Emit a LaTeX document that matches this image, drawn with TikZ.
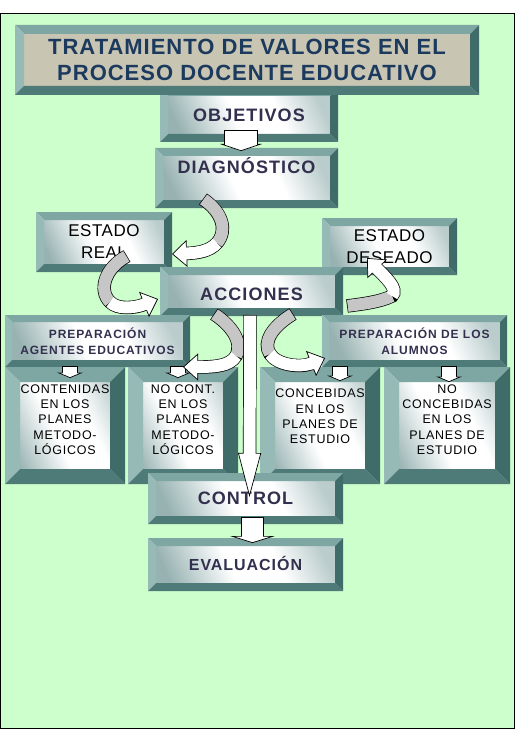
\documentclass[tikz,border=0pt]{standalone}
\usepackage{fontspec}
\setmainfont{Liberation Sans}
\newfontfamily\titlefont[LetterSpace=4.5]{Liberation Sans}
\newfontfamily\lblfont[LetterSpace=6]{Liberation Sans}
\newfontfamily\estfont[LetterSpace=3]{Liberation Sans}
\newfontfamily\prepfont[LetterSpace=8]{Liberation Sans}
\newfontfamily\smallfont[LetterSpace=6]{Liberation Sans}
\usetikzlibrary{arrows.meta}
\definecolor{bg}{HTML}{CCFFCC}
\definecolor{bevT}{HTML}{7EA6A2}
\definecolor{bevL}{HTML}{96BAB6}
\definecolor{bevB}{HTML}{4E7B78}
\definecolor{bevR}{HTML}{3F6B69}
\definecolor{fdark}{HTML}{98B2B2}
\definecolor{flight}{HTML}{BACCCC}
\definecolor{titleface}{HTML}{C8C5B3}
\definecolor{titletext}{HTML}{1C3A5E}
\definecolor{lbl}{HTML}{33304E}
\definecolor{arrgray}{HTML}{C6C6C6}
\pgfdeclarehorizontalshading{bevshade}{100bp}{color(0bp)=(fdark); color(25bp)=(fdark); color(45bp)=(white); color(60bp)=(white); color(75bp)=(flight); color(100bp)=(flight)}
\newlength\bw
\def\bevface{\shade[shading=bevshade,shading angle=25]}
\tikzset{
  bev/.code={\setlength\bw{#1}},
  plainface/.code={\def\bevface{\fill[titleface]}},
  bevbox/.style={inner sep=0pt, outer sep=0pt, align=center, fill=white, path picture={%
    \bevface ([xshift=\bw,yshift=-\bw]path picture bounding box.north west) rectangle ([xshift=-\bw,yshift=\bw]path picture bounding box.south east);
    \fill[bevT] (path picture bounding box.north west) -- (path picture bounding box.north east) -- ([xshift=-\bw,yshift=-\bw]path picture bounding box.north east) -- ([xshift=\bw,yshift=-\bw]path picture bounding box.north west) -- cycle;
    \fill[bevL] (path picture bounding box.north west) -- ([xshift=\bw,yshift=-\bw]path picture bounding box.north west) -- ([xshift=\bw,yshift=\bw]path picture bounding box.south west) -- (path picture bounding box.south west) -- cycle;
    \fill[bevB] (path picture bounding box.south west) -- ([xshift=\bw,yshift=\bw]path picture bounding box.south west) -- ([xshift=-\bw,yshift=\bw]path picture bounding box.south east) -- (path picture bounding box.south east) -- cycle;
    \fill[bevR] (path picture bounding box.north east) -- (path picture bounding box.south east) -- ([xshift=-\bw,yshift=\bw]path picture bounding box.south east) -- ([xshift=-\bw,yshift=-\bw]path picture bounding box.north east) -- cycle;
  }},
  titletxt/.style={font=\titlefont\bfseries\fontsize{22}{26}\selectfont, text=titletext},
  lbltxt/.style={font=\lblfont\bfseries\fontsize{18}{21}\selectfont, text=lbl},
  evaltxt/.style={font=\lblfont\bfseries\fontsize{16}{19}\selectfont, text=lbl},
  esttxt/.style={font=\estfont\fontsize{17}{22}\selectfont, text=black},
  preptxt/.style={font=\prepfont\bfseries\fontsize{12}{16}\selectfont, text=lbl},
  smalltxt/.style={font=\smallfont\fontsize{12.5}{15.4}\selectfont, text=black, align=center, inner sep=0pt},
  boutline/.style n args={3}{line width=#1, draw=black, -{Triangle[length=#2,width=#3,line width=0.7pt,fill=white]}},
  bfill/.style n args={2}{line width=#1, draw=white, shorten >=#2, shorten <=0.7pt},
  coutline/.style={line width=13.4pt, draw=black, -{Triangle[length=15pt,width=27pt,line width=0.7pt,fill=white]}},
  cgray/.style={line width=12pt, draw=arrgray, shorten <=0.7pt},
  cwhite/.style={line width=12pt, draw=white, shorten >=13.5pt},
}
\begin{document}
\begin{tikzpicture}[x=1pt,y=-1pt]
\useasboundingbox (0,0) rectangle (515,730);
\fill[white] (0,0) rectangle (515,730);
\draw[fill=bg, line width=0.9pt] (0.5,13.5) rectangle (514.5,728.5);

% boxes
\node[bevbox, bev=8pt, minimum width=178pt, minimum height=54pt, lbltxt] (obj) at (249,115) {OBJETIVOS};
\node[bevbox, bev=9pt, plainface, minimum width=464pt, minimum height=70pt, titletxt] (title) at (247,60) {TRATAMIENTO DE VALORES EN EL\\PROCESO DOCENTE EDUCATIVO};
\node[bevbox, bev=8pt, minimum width=183pt, minimum height=60pt, lbltxt] (diag) at (246.5,178) {\raisebox{12pt}[\height][\depth]{DIAGNÓSTICO}};
\node[bevbox, bev=8pt, minimum width=136pt, minimum height=60pt, esttxt] (er) at (104,242) {ESTADO\\REAL};
\node[bevbox, bev=8pt, minimum width=135pt, minimum height=57pt, esttxt] (ed) at (389.5,246.5) {ESTADO\\DESEADO};
\node[bevbox, bev=8pt, minimum width=183pt, minimum height=49pt, lbltxt] (acc) at (251.5,291.5) {\raisebox{-3pt}[\height][\depth]{ACCIONES}};
\node[bevbox, bev=7pt, minimum width=185pt, minimum height=52pt, preptxt] (pa) at (97.5,341) {PREPARACIÓN\\AGENTES EDUCATIVOS};
\node[bevbox, bev=7pt, minimum width=185pt, minimum height=52pt, preptxt] (pal) at (414.5,341) {PREPARACIÓN DE LOS\\ALUMNOS};
\node[bevbox, bev=15pt, minimum width=120pt, minimum height=117pt] (b1) at (65,425.5) {};
\node[smalltxt] (b1t) at ([yshift=6pt]b1.center) {CONTENIDAS\\EN LOS\\PLANES\\METODO-\\LÓGICOS};
\node[bevbox, bev=15pt, minimum width=110pt, minimum height=117pt] (b2) at (183,425.5) {};
\node[smalltxt] (b2t) at ([yshift=6pt]b2.center) {NO CONT.\\EN LOS\\PLANES\\METODO-\\LÓGICOS};
\node[bevbox, bev=15pt, minimum width=120pt, minimum height=117pt] (b3) at (320,425.5) {};
\node[smalltxt] (b3t) at ([yshift=9pt]b3.center) {CONCEBIDAS\\EN LOS\\PLANES DE\\ESTUDIO};
\node[bevbox, bev=15pt, minimum width=126pt, minimum height=117pt] (b4) at (447,425.5) {};
\node[smalltxt] (b4t) at ([yshift=6pt]b4.center) {NO\\CONCEBIDAS\\EN LOS\\PLANES DE\\ESTUDIO};
\node[bevbox, bev=8pt, minimum width=195pt, minimum height=51pt, lbltxt] (ctrl) at (245.5,498.5) {CONTROL};
\node[bevbox, bev=8pt, minimum width=195pt, minimum height=53pt, evaltxt] (eval) at (245.5,564.5) {\raisebox{1.2pt}[\height][\depth]{EVALUACIÓN}};

% connector end points
\coordinate (od1) at (241,130);   \coordinate (od2) at (241,151);
\coordinate (ce1) at (252.5,517); \coordinate (ce2) at (252.5,543);
\coordinate (la1) at (250,315);   \coordinate (la2) at (249.5,497);
\coordinate (s1a) at (70,366);    \coordinate (s1b) at (70,378);
\coordinate (s2a) at (178,366);   \coordinate (s2b) at (178,378);
\coordinate (s3a) at (340,366);   \coordinate (s3b) at (340,381);
\coordinate (s4a) at (449,366);   \coordinate (s4b) at (449,382);
\coordinate (c1s) at (203,199); \coordinate (c1m) at (217,243); \coordinate (c1e) at (172,254);
\coordinate (c2s) at (127,256); \coordinate (c2m) at (110,302); \coordinate (c2e) at (158,299);
\coordinate (c3s) at (347,306); \coordinate (c3m) at (392,296); \coordinate (c3e) at (367,258);
\coordinate (c4s) at (214,314); \coordinate (c4m) at (236,356); \coordinate (c4e) at (183,367);
\coordinate (c5s) at (293,314); \coordinate (c5m) at (270,354); \coordinate (c5e) at (325,358);

% small down arrows
\foreach \a/\b in {s1a/s1b, s2a/s2b, s3a/s3b, s4a/s4b}{
  \draw[boutline={15.4pt}{5.5pt}{26pt}] (\a) -- (\b);
  \draw[bfill={14pt}{4.5pt}] (\a) -- (\b);
}

% curved arrows
\draw[coutline] (c1s) .. controls (222,212) and (228,230) .. (c1m) .. controls (210,251) and (198,253) .. (c1e);
\draw[cgray] (c1s) .. controls (222,212) and (228,230) .. (c1m);
\draw[cwhite] (c1m) .. controls (210,251) and (198,253) .. (c1e);

\draw[coutline] (c2s) .. controls (105,268) and (98,290) .. (c2m) .. controls (118,310) and (135,308) .. (c2e);
\draw[cgray] (c2s) .. controls (105,268) and (98,290) .. (c2m);
\draw[cwhite] (c2m) .. controls (118,310) and (135,308) .. (c2e);

\draw[coutline] (c3s) .. controls (362,304) and (380,302) .. (c3m) .. controls (399,289) and (385,277) .. (c3e);
\draw[cgray] (c3s) .. controls (362,304) and (380,302) .. (c3m);
\draw[cwhite] (c3m) .. controls (399,289) and (385,277) .. (c3e);

\draw[coutline] (c4s) .. controls (232,326) and (243,342) .. (c4m) .. controls (230,366) and (215,367) .. (c4e);
\draw[cgray] (c4s) .. controls (232,326) and (243,342) .. (c4m);
\draw[cwhite] (c4m) .. controls (230,366) and (215,367) .. (c4e);

\draw[coutline] (c5s) .. controls (273,326) and (262,342) .. (c5m) .. controls (277,365) and (300,368) .. (c5e);
\draw[cgray] (c5s) .. controls (273,326) and (262,342) .. (c5m);
\draw[cwhite] (c5m) .. controls (277,365) and (300,368) .. (c5e);

% straight block arrows
\draw[boutline={13.4pt}{44pt}{23pt}] (la1) -- (la2);
\draw[bfill={12pt}{42pt}] (la1) -- (la2);
\draw[boutline={33.4pt}{7pt}{42pt}] (od1) -- (od2);
\draw[bfill={32pt}{6pt}] (od1) -- (od2);
\draw[boutline={22.4pt}{7pt}{45pt}] (ce1) -- (ce2);
\draw[bfill={21pt}{6pt}] (ce1) -- (ce2);
\end{tikzpicture}
\end{document}
